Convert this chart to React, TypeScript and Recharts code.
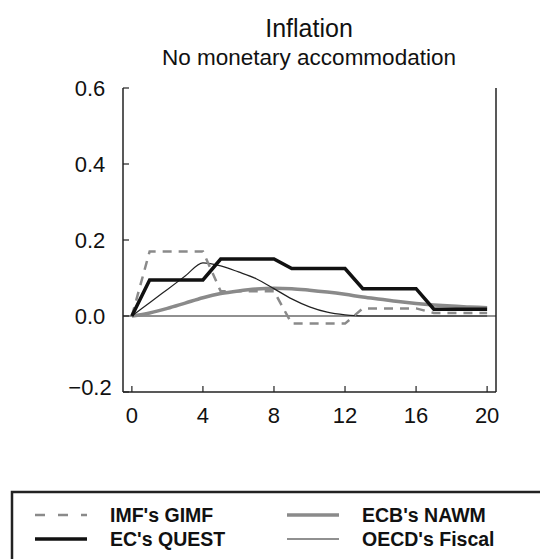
import { LineChart, Line, XAxis, YAxis, ReferenceLine } from "recharts";

const periods = [0, 1, 2, 3, 4, 5, 6, 7, 8, 9, 10, 11, 12, 13, 14, 15, 16, 17, 18, 19, 20];
const imfGimf = [0, 0.17, 0.17, 0.17, 0.17, 0.065, 0.065, 0.065, 0.065, -0.02, -0.02, -0.02, -0.02, 0.02, 0.02, 0.02, 0.02, 0.008, 0.008, 0.008, 0.008];
const ecQuest = [0, 0.095, 0.095, 0.095, 0.095, 0.15, 0.15, 0.15, 0.15, 0.125, 0.125, 0.125, 0.125, 0.072, 0.072, 0.072, 0.072, 0.018, 0.018, 0.018, 0.018];
const ecbNawm = [0, 0.008, 0.02, 0.034, 0.048, 0.059, 0.066, 0.071, 0.073, 0.072, 0.068, 0.063, 0.057, 0.05, 0.044, 0.038, 0.033, 0.029, 0.026, 0.024, 0.022];
const oecdFiscal = [0, 0.035, 0.07, 0.105, 0.14, 0.132, 0.116, 0.098, 0.072, 0.045, 0.024, 0.01, 0.003, 0, 0, 0, 0, 0, 0, 0, 0];
const xTicks = [0, 4, 8, 12, 16, 20];
const yTicks = [-0.2, 0, 0.2, 0.4, 0.6];

const data = periods.map((t, i) => ({
  t,
  imf: imfGimf[i],
  quest: ecQuest[i],
  nawm: ecbNawm[i],
  oecd: oecdFiscal[i],
}));

const FONT = "'Liberation Sans', Arial, Helvetica, sans-serif";
const GRAY = "#8a8a8a";

const legendItems = [
  { label: "IMF's GIMF", color: GRAY, width: 2.5, dash: "10 13", x: 35, y: 515 },
  { label: "EC's QUEST", color: "#111", width: 3.5, dash: undefined, x: 35, y: 539 },
  { label: "ECB's NAWM", color: GRAY, width: 3.5, dash: undefined, x: 287, y: 515 },
  { label: "OECD's Fiscal", color: "#222", width: 1.2, dash: undefined, x: 287, y: 539 },
];

const XTick = (props: any) => {
  const { x, y, payload } = props;
  return (
    <text x={x} y={y} textAnchor="middle" fontFamily={FONT} fontSize={22} fill="#111">
      {payload.value}
    </text>
  );
};

const YTick = (props: any) => {
  const { x, y, payload } = props;
  const v = payload.value as number;
  const label = v < 0 ? "\u2212" + Math.abs(v).toFixed(1) : v.toFixed(1);
  return (
    <text
      x={x}
      y={v < 0 ? y - 5 : y}
      dy="0.36em"
      textAnchor="middle"
      fontFamily={FONT}
      fontSize={22}
      fill="#111"
    >
      {label}
    </text>
  );
};

export default function App() {
  return (
    <div style={{ position: "absolute", left: 0, top: 0, width: 540, height: 559, background: "#fff", overflow: "hidden" }}>
      <LineChart
        width={540}
        height={559}
        data={data}
        margin={{ top: 88, right: 0, left: 0, bottom: 0 }}
        style={{ position: "absolute", left: 0, top: 0 }}
      >
        <XAxis
          dataKey="t"
          type="number"
          domain={[-0.5, 20.5]}
          ticks={xTicks}
          height={167}
          tickSize={-6}
          tickMargin={37}
          tick={<XTick />}
          axisLine={{ stroke: "#222", strokeWidth: 1.5 }}
          tickLine={{ stroke: "#222", strokeWidth: 1.2 }}
        />
        <XAxis
          xAxisId="top"
          orientation="top"
          type="number"
          domain={[-0.5, 20.5]}
          ticks={xTicks}
          height={0}
          tickLine={false}
          tickFormatter={() => ""}
          axisLine={{ stroke: "#222", strokeWidth: 1.5 }}
        />
        <YAxis
          type="number"
          domain={[-0.2, 0.6]}
          ticks={yTicks}
          width={123}
          tickSize={-6}
          tickMargin={39}
          tick={<YTick />}
          axisLine={{ stroke: "#222", strokeWidth: 1.5 }}
          tickLine={{ stroke: "#222", strokeWidth: 1.2 }}
        />
        <YAxis
          yAxisId="right"
          orientation="right"
          type="number"
          domain={[-0.2, 0.6]}
          ticks={yTicks}
          width={44}
          tickSize={-5}
          tickFormatter={() => ""}
          axisLine={{ stroke: "#222", strokeWidth: 1.5 }}
          tickLine={{ stroke: "#444", strokeWidth: 1 }}
        />
        <ReferenceLine y={0} stroke="#222" strokeWidth={1.2} />
        <Line dataKey="nawm" type="monotone" stroke={GRAY} strokeWidth={3.5} dot={false} isAnimationActive={false} />
        <Line dataKey="oecd" type="monotone" stroke="#222" strokeWidth={1.2} dot={false} isAnimationActive={false} />
        <Line dataKey="imf" type="linear" stroke={GRAY} strokeWidth={2.5} strokeDasharray="9 7" dot={false} isAnimationActive={false} />
        <Line dataKey="quest" type="linear" stroke="#111" strokeWidth={3.5} dot={false} isAnimationActive={false} />
      </LineChart>
      <svg width={540} height={559} style={{ position: "absolute", left: 0, top: 0, pointerEvents: "none" }}>
        <text x={309} y={37} textAnchor="middle" fontFamily={FONT} fontSize={25} fill="#111">
          Inflation
        </text>
        <text x={309} y={65} textAnchor="middle" fontFamily={FONT} fontSize={22.5} fill="#111">
          No monetary accommodation
        </text>
        <rect x={12} y={492} width={560} height={100} fill="none" stroke="#222" strokeWidth={2.5} />
        {legendItems.map((item) => (
          <g key={item.label}>
            <line
              x1={item.x}
              x2={item.x + 52}
              y1={item.y}
              y2={item.y}
              stroke={item.color}
              strokeWidth={item.width}
              strokeDasharray={item.dash}
            />
            <text x={item.x + 75} y={item.y + 7} fontFamily={FONT} fontSize={19.5} fontWeight="bold" fill="#111">
              {item.label}
            </text>
          </g>
        ))}
      </svg>
    </div>
  );
}
